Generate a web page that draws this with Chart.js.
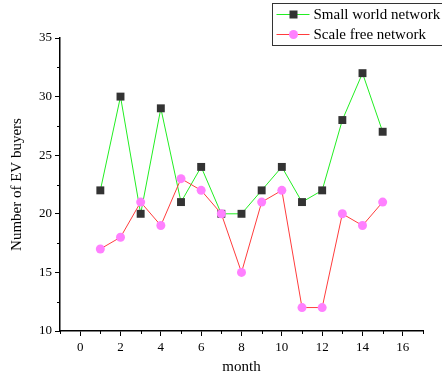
<!DOCTYPE html>
<html>
<head>
<meta charset="utf-8">
<script src="https://cdn.jsdelivr.net/npm/chart.js@4/dist/chart.umd.min.js"></script>
<style>
  html, body { margin: 0; padding: 0; background: #fff; }
  #wrap { width: 442px; height: 380px; }
</style>
</head>
<body>
<div id="wrap"><canvas id="chart" width="442" height="380"></canvas></div>
<script>
const months = [1, 2, 3, 4, 5, 6, 7, 8, 9, 10, 11, 12, 13, 14, 15];
const smallWorld = [22, 30, 20, 29, 21, 24, 20, 20, 22, 24, 21, 22, 28, 32, 27];
const scaleFree = [17, 18, 21, 19, 23, 22, 20, 15, 21, 22, 12, 12, 20, 19, 21];
const seriesNames = ["Small world network", "Scale free network"];

const xMinor = [-1, 1, 3, 5, 7, 9, 11, 13, 15, 17];
const yMinor = [12.5, 17.5, 22.5, 27.5, 32.5];

const FONT = "'Liberation Serif', 'Times New Roman', serif";

const pts = vals => months.map((m, i) => ({ x: m, y: vals[i] }));

// minor ticks + legend box
const extras = {
  id: "extras",
  afterDraw(chart) {
    const ctx = chart.ctx;
    const xs = chart.scales.x, ys = chart.scales.y;
    ctx.save();
    ctx.strokeStyle = "#000";
    ctx.lineWidth = 1;
    xMinor.forEach(v => {
      const px = Math.round(xs.getPixelForValue(v)) + 0.5;
      ctx.beginPath();
      ctx.moveTo(px, xs.top);
      ctx.lineTo(px, xs.top + 3);
      ctx.stroke();
    });
    yMinor.forEach(v => {
      const py = Math.round(ys.getPixelForValue(v)) + 0.5;
      ctx.beginPath();
      ctx.moveTo(ys.right, py);
      ctx.lineTo(ys.right - 3, py);
      ctx.stroke();
    });

    // legend
    const bx = 272.5, by = 3.5, bw = 175, bh = 42;
    ctx.fillStyle = "#fff";
    ctx.fillRect(bx, by, bw, bh);
    ctx.strokeStyle = "#333";
    ctx.strokeRect(bx, by, bw, bh);
    ctx.font = "15px " + FONT;
    ctx.textBaseline = "middle";
    chart.data.datasets.forEach((ds, i) => {
      const cy = by + 11 + i * 20;
      ctx.strokeStyle = ds.borderColor;
      ctx.lineWidth = 1;
      ctx.beginPath();
      ctx.moveTo(bx + 4, cy);
      ctx.lineTo(bx + 37, cy);
      ctx.stroke();
      ctx.fillStyle = ds.pointBackgroundColor;
      ctx.beginPath();
      if (ds.pointStyle === "rect") {
        ctx.rect(bx + 17, cy - 4, 8, 8);
      } else {
        ctx.arc(bx + 21, cy, 4.5, 0, Math.PI * 2);
      }
      ctx.fill();
      ctx.fillStyle = "#000";
      ctx.fillText(ds.label, bx + 41, cy + 1);
    });
    ctx.restore();
  }
};

new Chart(document.getElementById("chart"), {
  type: "line",
  data: {
    datasets: [
      {
        label: seriesNames[0],
        data: pts(smallWorld),
        borderColor: "#22ee22",
        borderWidth: 1,
        pointStyle: "rect",
        pointRadius: 5.6,
        pointBackgroundColor: "#333333",
        pointBorderWidth: 0,
        tension: 0,
        order: 2
      },
      {
        label: seriesNames[1],
        data: pts(scaleFree),
        borderColor: "#ff3c3c",
        borderWidth: 1,
        pointStyle: "circle",
        pointRadius: 4.5,
        pointBackgroundColor: "#ff80ff",
        pointBorderWidth: 0,
        tension: 0,
        order: 1
      }
    ]
  },
  options: {
    responsive: false,
    animation: false,
    layout: { padding: { top: 38, right: 19, left: 0, bottom: 0 } },
    plugins: { legend: { display: false }, tooltip: { enabled: false } },
    scales: {
      x: {
        type: "linear",
        min: -1,
        max: 17,
        afterBuildTicks: s => { s.ticks = [0, 2, 4, 6, 8, 10, 12, 14, 16].map(v => ({ value: v })); },
        afterFit: s => { s.height = 49; },
        ticks: { color: "#000", font: { family: FONT, size: 13 }, padding: 4, maxRotation: 0 },
        grid: { drawOnChartArea: false, drawTicks: true, tickLength: 5, color: "#000", lineWidth: 1 },
        border: { display: true, color: "#000", width: 1.5 },
        title: { display: true, text: "month", color: "#000", font: { family: FONT, size: 15 }, padding: { top: 6 } }
      },
      y: {
        min: 10,
        max: 35,
        ticks: { stepSize: 5, color: "#000", font: { family: FONT, size: 13 }, padding: 3 },
        afterFit: s => { s.width = 60; },
        grid: { drawOnChartArea: false, drawTicks: true, tickLength: 5, color: "#000", lineWidth: 1 },
        border: { display: true, color: "#000", width: 1.5 },
        title: { display: true, text: "Number of EV buyers", color: "#000", font: { family: FONT, size: 15 }, padding: { top: 8, bottom: 4 } }
      }
    }
  },
  plugins: [extras]
});
</script>
</body>
</html>
